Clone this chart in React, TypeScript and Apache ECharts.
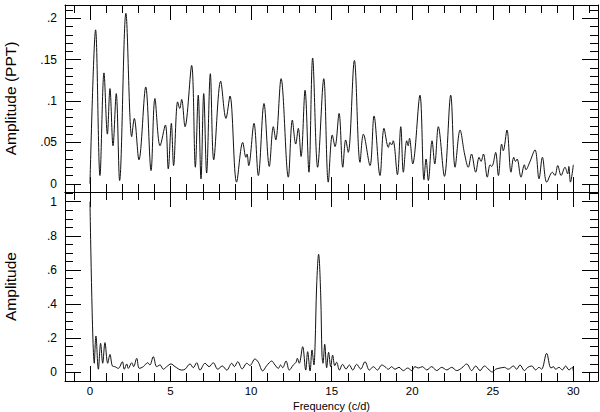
import React, { useEffect, useRef } from 'react';
import * as echarts from 'echarts';

// ---- Data: amplitude spectrum (top panel) ----
const topFreq = [
  0.0, 0.35, 0.62, 0.87, 1.08, 1.24, 1.43, 1.63, 1.84, 2.23, 2.59, 2.75, 3.04, 3.46, 3.79, 4.03, 4.35, 4.68, 4.86, 5.05,
  5.19, 5.44, 5.57, 5.69, 5.9, 6.31, 6.54, 6.72, 6.89, 7.06, 7.24, 7.47, 7.68, 8.11, 8.44, 8.69, 9.1, 9.48, 9.68, 9.75,
  9.85, 10.18, 10.45, 10.8, 11.13, 11.38, 11.53, 11.86, 12.31, 12.56, 12.77, 12.93, 13.1, 13.35, 13.59, 13.82, 14.13, 14.51, 14.79, 15.04,
  15.21, 15.46, 15.69, 15.87, 16.03, 16.41, 16.76, 16.97, 17.38, 17.63, 18.0, 18.25, 18.52, 18.62, 18.72, 18.82, 19.08, 19.29, 19.45, 19.66,
  19.75, 19.83, 20.03, 20.48, 20.73, 20.86, 21.0, 21.23, 21.4, 21.62, 22.0, 22.39, 22.66, 22.97, 23.25, 23.48, 23.68, 23.94, 24.15, 24.27,
  24.42, 24.66, 24.83, 24.93, 25.02, 25.18, 25.35, 25.55, 25.65, 25.88, 26.13, 26.3, 26.41, 26.51, 26.75, 26.96, 27.06, 27.27, 27.62, 27.87,
  28.08, 28.35, 28.7, 28.86, 29.03, 29.24, 29.48, 29.65, 29.72, 29.82, 30.0,
];
const topAmp = [
  0.0, 0.186, 0.01, 0.134, 0.06, 0.115, 0.046, 0.109, 0.004, 0.206, 0.057, 0.079, 0.029, 0.117, 0.016, 0.103, 0.046, 0.071, 0.018, 0.073,
  0.022, 0.099, 0.091, 0.102, 0.069, 0.143, 0.02, 0.107, 0.006, 0.109, 0.013, 0.133, 0.029, 0.124, 0.079, 0.106, 0.002, 0.05, 0.032, 0.036,
  0.022, 0.073, 0.01, 0.097, 0.021, 0.069, 0.053, 0.127, 0.008, 0.077, 0.048, 0.067, 0.033, 0.113, 0.014, 0.152, 0.02, 0.127, 0.002, 0.059,
  0.045, 0.085, 0.02, 0.053, 0.038, 0.149, 0.026, 0.06, 0.022, 0.082, 0.01, 0.067, 0.044, 0.05, 0.047, 0.052, 0.011, 0.069, 0.014, 0.052,
  0.046, 0.055, 0.024, 0.107, 0.005, 0.03, 0.004, 0.052, 0.024, 0.069, 0.009, 0.107, 0.02, 0.065, 0.036, 0.02, 0.036, 0.014, 0.032, 0.027,
  0.036, 0.008, 0.023, 0.021, 0.024, 0.038, 0.01, 0.048, 0.04, 0.065, 0.014, 0.032, 0.027, 0.03, 0.008, 0.023, 0.017, 0.025, 0.041, 0.006,
  0.032, 0.002, 0.014, 0.01, 0.022, 0.01, 0.02, 0.012, 0.021, 0.002, 0.023,
];

// ---- Data: spectral window (bottom panel) ----
const winFreq = [
  0.0, 0.27, 0.37, 0.52, 0.66, 0.79, 0.93, 1.1, 1.24, 1.39, 1.55, 1.76, 2.01, 2.13, 2.28, 2.38, 2.59, 2.71, 2.9, 3.06,
  3.31, 3.58, 3.72, 3.93, 4.14, 4.35, 4.55, 4.76, 5.03, 5.28, 5.69, 5.9, 6.21, 6.41, 6.62, 6.83, 7.14, 7.39, 7.65, 7.93,
  8.21, 8.49, 8.8, 8.96, 9.17, 9.45, 9.73, 9.93, 10.24, 10.45, 10.72, 10.97, 11.28, 11.48, 11.69, 11.83, 11.96, 12.17, 12.37, 12.62,
  12.79, 12.87, 12.99, 13.2, 13.39, 13.51, 13.66, 13.78, 13.9, 13.97, 14.07, 14.19, 14.32, 14.4, 14.46, 14.57, 14.69, 14.81, 14.94, 15.06,
  15.19, 15.31, 15.48, 15.68, 15.89, 16.1, 16.31, 16.55, 16.8, 17.07, 17.34, 17.59, 17.84, 18.11, 18.31, 18.52, 18.72, 18.93, 19.18, 19.45,
  19.72, 19.97, 20.17, 20.38, 20.63, 20.9, 21.21, 21.52, 21.83, 22.14, 22.45, 22.76, 23.07, 23.38, 23.69, 23.94, 24.21, 24.48, 24.77, 24.97,
  25.18, 25.45, 25.72, 25.96, 26.28, 26.48, 26.69, 26.96, 27.17, 27.42, 27.66, 27.87, 28.03, 28.34, 28.61, 28.76, 28.9, 29.11, 29.32, 29.52,
  29.73, 29.94, 30.0,
];
const winAmp = [
  1.0, 0.053, 0.213, 0.018, 0.17, 0.053, 0.174, 0.053, 0.105, 0.037, 0.033, 0.023, 0.062, 0.018, 0.049, 0.023, 0.056, 0.033, 0.082, 0.023,
  0.033, 0.056, 0.043, 0.092, 0.033, 0.043, 0.018, 0.033, 0.049, 0.033, 0.013, 0.018, 0.049, 0.027, 0.056, 0.013, 0.053, 0.033, 0.056, 0.018,
  0.037, 0.013, 0.053, 0.033, 0.062, 0.02, 0.053, 0.04, 0.078, 0.059, 0.008, 0.039, 0.066, 0.043, 0.023, 0.043, 0.027, 0.066, 0.013, 0.043,
  0.059, 0.082, 0.053, 0.15, 0.013, 0.121, 0.008, 0.131, 0.043, 0.16, 0.512, 0.692, 0.453, 0.101, 0.053, 0.164, 0.027, 0.117, 0.033, 0.101,
  0.039, 0.059, 0.013, 0.047, 0.019, 0.043, 0.013, 0.047, 0.019, 0.062, 0.013, 0.033, 0.013, 0.043, 0.033, 0.018, 0.033, 0.018, 0.029, 0.01,
  0.025, 0.01, 0.033, 0.025, 0.033, 0.014, 0.033, 0.01, 0.029, 0.014, 0.029, 0.01, 0.025, 0.049, 0.01, 0.037, 0.01, 0.037, 0.014, 0.002,
  0.018, 0.025, 0.029, 0.018, 0.037, 0.018, 0.043, 0.01, 0.029, 0.037, 0.014, 0.029, 0.018, 0.111, 0.025, 0.033, 0.018, 0.029, 0.014, 0.037,
  0.014, 0.029, 0.005,
];

// ---- Tick labels ----
const xTickValues = [0, 5, 10, 15, 20, 25, 30];
const xTickLabels = ['0', '5', '10', '15', '20', '25', '30'];
const topYTickValues = [0, 0.05, 0.1, 0.15, 0.2];
const topYTickLabels = ['0', '.05', '.1', '.15', '.2'];
const botYTickValues = [0, 0.2, 0.4, 0.6, 0.8, 1.0];
const botYTickLabels = ['0', '.2', '.4', '.6', '.8', '1'];

const FONT = '"Liberation Sans", Helvetica, Arial, sans-serif';
const X_MIN = -1.55;
const X_MAX = 31.53;
const TOP_Y = [-0.0099, 0.216];
const BOT_Y = [-0.051, 1.057];

function labelFor(values: number[], labels: string[]) {
  return (v: number) => {
    for (let i = 0; i < values.length; i++) {
      if (Math.abs(values[i] - v) < 1e-6) return labels[i];
    }
    return '';
  };
}

const LINE = { color: '#000', width: 1 };

function xAxis(gridIndex: number, position: string, labels: boolean, name?: string) {
  return {
    type: 'value',
    gridIndex,
    position,
    min: X_MIN,
    max: X_MAX,
    splitNumber: 5,
    axisLine: { show: true, onZero: false, lineStyle: LINE },
    axisTick: { show: true, inside: true, length: 15, lineStyle: LINE },
    minorTick: { show: true, splitNumber: 5, length: 8, lineStyle: LINE },
    splitLine: { show: false },
    axisLabel: {
      show: labels,
      margin: 4,
      color: '#000',
      fontSize: 11.5,
      fontFamily: FONT,
      formatter: labelFor(xTickValues, xTickLabels),
    },
    name: name || '',
    nameLocation: 'middle',
    nameGap: 19,
    nameMoveOverlap: false,
    nameTextStyle: { color: '#000', fontSize: 11, fontFamily: FONT },
  };
}

function yAxis(
  gridIndex: number,
  position: string,
  range: number[],
  minorSplit: number,
  labels: boolean,
  values: number[],
  texts: string[],
  name?: string,
) {
  return {
    type: 'value',
    gridIndex,
    position,
    min: range[0],
    max: range[1],
    splitNumber: 5,
    axisLine: { show: true, onZero: false, lineStyle: LINE },
    axisTick: { show: true, inside: true, length: 16, lineStyle: LINE },
    minorTick: { show: true, splitNumber: minorSplit, length: 8, lineStyle: LINE },
    splitLine: { show: false },
    axisLabel: {
      show: labels,
      margin: 8,
      color: '#000',
      fontSize: 12,
      fontFamily: FONT,
      formatter: labelFor(values, texts),
    },
    name: name || '',
    nameLocation: 'middle',
    nameGap: 47,
    nameRotate: 90,
    nameMoveOverlap: false,
    nameTextStyle: { color: '#000', fontSize: 15.5, fontFamily: FONT },
  };
}

export default function App() {
  const ref = useRef<HTMLDivElement>(null);

  useEffect(() => {
    if (!ref.current) return;
    const chart = echarts.init(ref.current, undefined, { renderer: 'svg' });
    const topData = topFreq.map((f, i) => [f, topAmp[i]]);
    const winData = winFreq.map((f, i) => [f, winAmp[i]]);
    chart.setOption({
      animation: false,
      backgroundColor: '#fff',
      grid: [
        { left: 65, right: 2, top: 5, height: 187, containLabel: false, outerBoundsMode: 'none' },
        { left: 65, right: 2, top: 192, height: 189, containLabel: false, outerBoundsMode: 'none' },
      ],
      xAxis: [
        xAxis(0, 'bottom', false),
        xAxis(0, 'top', false),
        xAxis(1, 'top', false),
        xAxis(1, 'bottom', true, 'Frequency (c/d)'),
      ],
      yAxis: [
        yAxis(0, 'left', TOP_Y, 5, true, topYTickValues, topYTickLabels, 'Amplitude (PPT)'),
        yAxis(0, 'right', TOP_Y, 5, false, topYTickValues, topYTickLabels),
        yAxis(1, 'left', BOT_Y, 4, true, botYTickValues, botYTickLabels, 'Amplitude'),
        yAxis(1, 'right', BOT_Y, 4, false, botYTickValues, botYTickLabels),
      ],
      series: [
        {
          type: 'line',
          xAxisIndex: 0,
          yAxisIndex: 0,
          data: topData,
          showSymbol: false,
          smooth: 0.35,
          lineStyle: { color: '#111', width: 1 },
        },
        {
          type: 'line',
          xAxisIndex: 3,
          yAxisIndex: 2,
          data: winData,
          showSymbol: false,
          smooth: 0.35,
          lineStyle: { color: '#111', width: 1 },
        },
      ],
    });
    return () => chart.dispose();
  }, []);

  return (
    <div
      ref={ref}
      style={{ position: 'absolute', left: 0, top: 0, width: 600, height: 412, background: '#fff' }}
    />
  );
}
